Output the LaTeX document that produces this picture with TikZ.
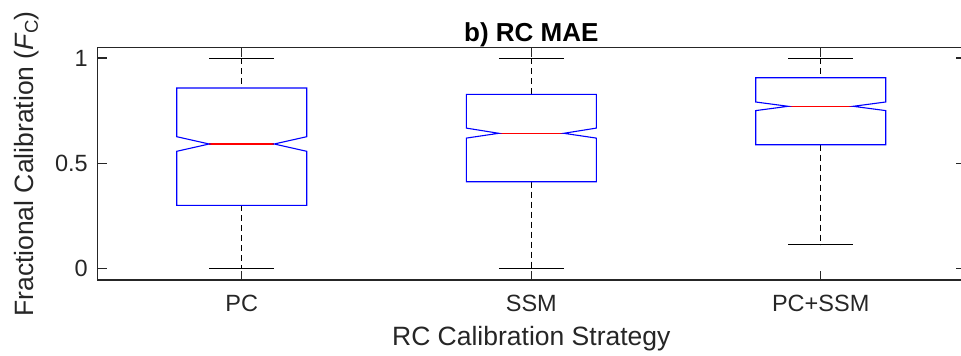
\documentclass[tikz,border=0pt]{standalone}
\usepackage{fontspec}
\setmainfont{Liberation Sans}
\definecolor{axgray}{HTML}{262626}
\tikzset{
  axisline/.style={draw=axgray, line width=1.1pt},
  tickline/.style={draw=axgray, line width=1.1pt},
  boxline/.style={draw=blue, line width=1.1pt, line join=miter},
  medline/.style={draw=red, line width=1.1pt},
  whisk/.style={draw=black, line width=1pt, dash pattern=on 6pt off 4pt},
  capline/.style={draw=black, line width=1pt},
  ticklab/.style={text=axgray, font=\fontsize{23.5}{28}\selectfont, inner sep=0pt},
  axlab/.style={text=axgray, font=\fontsize{26.5}{31}\selectfont, inner sep=0pt},
  titlelab/.style={text=black, font=\fontsize{26}{31}\selectfont\bfseries, inner sep=0pt},
}
% #1 cx, #2 top, #3 notch top, #4 median, #5 notch bottom, #6 bottom, #7 upper cap, #8 lower cap
\newcommand\notchbox[8]{%
  \draw[whisk] (#1,#7) -- (#1,#2);
  \draw[whisk] (#1,#6) -- (#1,#8);
  \draw[capline] (#1-32.5,#7) -- (#1+32.5,#7);
  \draw[capline] (#1-32.5,#8) -- (#1+32.5,#8);
  \draw[medline] (#1-32.5,#4) -- (#1+32.5,#4);
  \draw[boxline] (#1-65,#2) -- (#1+65,#2) -- (#1+65,#3) -- (#1+32.5,#4)
     -- (#1+65,#5) -- (#1+65,#6) -- (#1-65,#6) -- (#1-65,#5) -- (#1-32.5,#4)
     -- (#1-65,#3) -- cycle;
}
\begin{document}
\begin{tikzpicture}[x=1pt,y=-1pt]
\useasboundingbox (0,0) rectangle (961,356);
\begin{scope}
\clip (0,0) rectangle (961,356);
% ticks
\foreach \yy in {58,163.7,268.7}{
  \draw[tickline] (97.3,\yy) -- (106.7,\yy);
  \draw[tickline] (965.4,\yy) -- (956,\yy);
}
\foreach \xx in {241.7,531.3,820.7}{
  \draw[tickline] (\xx,47.7) -- (\xx,57.1);
  \draw[tickline] (\xx,280) -- (\xx,270.6);
}
% boxes
\notchbox{241.7}{88}{136.7}{144}{151.3}{205.3}{58}{268.7}
\notchbox{531.3}{94.3}{128.1}{133.3}{138.1}{181.7}{58}{268.7}
\notchbox{820.7}{77.7}{102}{106.3}{110.6}{144.7}{58}{244.7}
% axes frame
\draw[axisline] (97.3,47.7) rectangle (965.4,280);
\end{scope}
% tick labels
\node[ticklab, anchor=east] (y1) at (88,58) {1};
\node[ticklab, anchor=east] (y05) at (88,163.7) {0.5};
\node[ticklab, anchor=east] (y0) at (88,268.7) {0};
\node[ticklab] (xpc) at (241.7,303.3) {PC};
\node[ticklab] (xssm) at (531.3,303.3) {SSM};
\node[ticklab] (xboth) at (820.7,303.3) {PC+SSM};
% axis labels
\node[axlab, anchor=base] (xlab) at (531.3,345.5) {RC Calibration Strategy};
\node[axlab, anchor=base, rotate=90] (ylab) at (33.5,164) {Fractional Calibration ({\itshape F}\textsubscript{C})};
\node[titlelab, anchor=base] (title) at (531.3,41.5) {b) RC MAE};
\end{tikzpicture}
\end{document}
